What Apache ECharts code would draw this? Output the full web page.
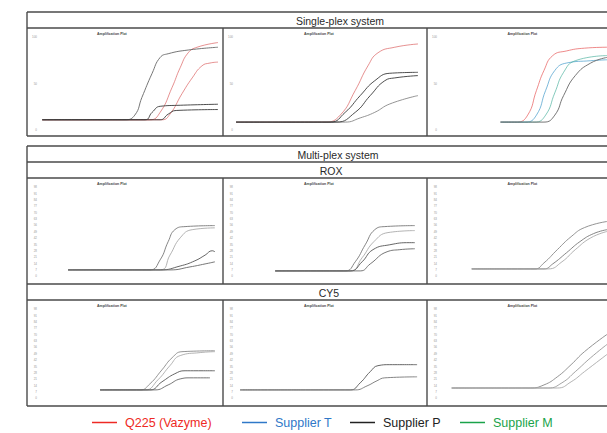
<!DOCTYPE html>
<html><head><meta charset="utf-8">
<script src="https://cdn.jsdelivr.net/npm/echarts@6/dist/echarts.min.js"></script>
<style>html,body{margin:0;padding:0;background:#fff}#c{width:607px;height:433px}</style>
</head><body><div id="c"></div>
<script>
// ---------- data (cycle, fluorescence %) ----------
const legendNames = ['Q225 (Vazyme)', 'Supplier T', 'Supplier P', 'Supplier M'];
const panelTitle = 'Amplification Plot';
const headerSingle = 'Single-plex system';
const headerMulti = 'Multi-plex system';
const headerRox = 'ROX';
const headerCy5 = 'CY5';

// Single-plex
const sp1A = [[0.5,11],[19.1,11],[21.3,16],[22.9,35],[25.2,61],[27,78],[28.8,82],[33.3,86],[40,89]];
const sp1B = [[0.5,11],[24.7,11],[27,19],[29.7,46],[31.5,67],[33.3,83],[35.3,89],[40,94]];
const sp1C = [[0.5,11],[27.4,11],[29.2,17],[31.9,39],[34.2,56],[36.4,69],[38.2,72],[40,73]];
const sp1D = [[0.5,11],[23.6,11],[25.2,19],[27,25.5],[31.5,26.6],[40,27.7]];
const sp1E = [[0.5,11],[27,11],[28.8,17],[30.6,21],[40,22]];

const sp2Q = [[0,8.5],[19.6,8.5],[22.9,16],[26.2,42.5],[29,69],[31.2,83],[34.9,89],[40,92.5]];
const sp2P1 = [[0,8.5],[20.7,8.5],[24,19],[27.3,37],[30.5,53],[33.8,61],[40,62]];
const sp2P2 = [[0,8.5],[22,8.5],[26.2,19],[29.5,37],[32.7,53],[34.9,56],[40,58.5]];
const sp2Q2 = [[0,8.5],[24,8.5],[27.3,13],[30.5,19],[33.8,28],[40,37]];

const sp3Q = [[14.5,8.5],[18.4,8.5],[21,16],[23.1,42.5],[24.9,64],[27,80],[30.3,85],[34.6,88],[40,89]];
const sp3T = [[14.5,8.5],[20.5,8.5],[23.1,16],[25.3,42.5],[27.5,64],[30.3,72],[36.1,74.5],[40,75.5]];
const sp3M = [[14.5,8.5],[22.7,8.5],[25.3,16],[27.5,40],[29.6,62],[32.4,74.5],[40,80]];
const sp3P = [[14.5,8.5],[24.9,8.5],[27.5,16],[29.6,37],[32.4,58.5],[36.1,72],[40,78]];

// Multi-plex ROX
const rox1a = [[6.3,6.7],[24.7,6.7],[27,17.8],[28.8,37.8],[30.3,51],[32.6,54.4],[39.3,55.5]];
const rox1b = [[6.3,6.7],[27,6.7],[29.2,23],[31.5,42],[34.2,51],[39.3,53]];
const rox1c = [[6.3,6.7],[27,6.7],[31.5,11],[34.8,16.7],[37.1,23],[38.7,27.8],[39.3,26.7]];
const rox1d = [[6.3,6.7],[29.2,6.7],[33.7,10],[37.1,13.3],[39.3,15.6]];

const rox2a = [[8.6,5.6],[24,5.6],[26.2,15.6],[28.4,34.4],[30.5,51],[32.7,54.4],[39.3,55.5]];
const rox2b = [[8.6,5.6],[25.1,5.6],[27.7,20],[30.3,37.8],[33.4,47.8],[39.3,50]];
const rox2c = [[8.6,5.6],[25.1,5.6],[27.7,15.6],[30.1,29],[33.8,34.4],[38.2,36.7],[39.3,36.7]];
const rox2d = [[8.6,5.6],[27.3,5.6],[29.5,13.3],[33.2,26.7],[36,29],[39.3,30]];

const rox3a = [[7.6,7.8],[22.7,7.8],[24.9,14.4],[28.1,29],[31.4,43.3],[34.6,53.3],[40,60]];
const rox3b = [[7.6,7.8],[24.9,7.8],[27,13.3],[30.3,25.6],[33.5,37.8],[36.8,46.7],[40,51]];
const rox3c = [[7.6,7.8],[25.9,7.8],[29.2,15.6],[32.4,29],[36.1,42],[40,49]];

// Multi-plex CY5
const cy1a = [[13.5,8.9],[22.5,8.9],[24.7,15.6],[27.4,31],[29.7,44.4],[31.9,51],[39.3,52]];
const cy1b = [[13.5,8.9],[23.6,8.9],[26.5,20],[29.2,35.6],[31.5,46.7],[36,50],[39.3,51]];
const cy1c = [[13.5,8.9],[24.7,8.9],[27.4,17.8],[30.3,26.7],[32.6,30],[39.3,30]];
const cy1d = [[13.5,8.9],[25.8,8.9],[28.8,14.4],[31.5,21],[33.7,22.2],[38.2,22.2]];

const cy2a = [[0.9,8.9],[25.1,8.9],[27.3,16.7],[29.5,29],[31.2,35.6],[33.8,36.7],[39.8,36.7]];
const cy2b = [[0.9,8.9],[26.2,8.9],[28.8,13.3],[31,19],[32.7,22.2],[39.8,23.3]];

const cy3a = [[2.8,11],[21.6,11],[24.9,14.4],[28.1,23.3],[31.4,36.7],[34.6,51],[40,70]];
const cy3b = [[2.8,11],[25.9,11],[29.2,16.7],[32.4,29],[36.1,44.4],[40,59]];
const cy3c = [[2.8,11],[28.1,11],[31.4,17.8],[34.6,29],[40,48]];

// ---------- styles / layout ----------
const C = {Q:'#ee2a24', T:'#2f78c8', P:'#222222', M:'#1aa34a'};
const red = 'rgba(215,80,80,0.7)';
const colX = [40, 236, 440];
const colW = [178, 182, 185];
const rows = [{top:37, h:93, multi:false}, {top:187, h:89, multi:true}, {top:309, h:89, multi:true}];

const panels = [
  {r:0,c:0,curves:[[sp1B,red],[sp1C,red],[sp1A,'#666'],[sp1D,'#3a3a3a'],[sp1E,'#3a3a3a']]},
  {r:0,c:1,curves:[[sp2Q,red],[sp2Q2,'#888'],[sp2P1,'#3a3a3a'],[sp2P2,'#3a3a3a']]},
  {r:0,c:2,curves:[[sp3Q,'rgba(230,80,80,0.75)'],[sp3T,'rgba(60,150,200,0.75)'],[sp3M,'rgba(60,170,150,0.7)'],[sp3P,'#666']]},
  {r:1,c:0,curves:[[rox1a,'#777'],[rox1b,'#aaa'],[rox1c,'#555'],[rox1d,'#666']]},
  {r:1,c:1,curves:[[rox2a,'#777'],[rox2b,'#aaa'],[rox2c,'#555'],[rox2d,'#666']]},
  {r:1,c:2,curves:[[rox3a,'#888'],[rox3b,'#777'],[rox3c,'#aaa']]},
  {r:2,c:0,curves:[[cy1a,'#888'],[cy1b,'#aaa'],[cy1c,'#555'],[cy1d,'#666']]},
  {r:2,c:1,curves:[[cy2a,'#555'],[cy2b,'#777']]},
  {r:2,c:2,curves:[[cy3a,'#888'],[cy3b,'#999'],[cy3c,'#aaa']]}
];

const grid = [], xAxis = [], yAxis = [], series = [], titles = [];
legendNames.forEach((n, i) => {
  series.push({name:n, type:'line', data:[], color:[C.Q, C.T, C.P, C.M][i], xAxisIndex:0, yAxisIndex:0, symbol:'none'});
});
panels.forEach((p, i) => {
  const row = rows[p.r];
  grid.push({left:colX[p.c], top:row.top, width:colW[p.c], height:row.h, containLabel:false});
  xAxis.push({gridIndex:i, type:'value', min:0, max:40, show:false});
  yAxis.push({gridIndex:i, type:'value', min:0, max: row.multi ? 98 : 100, interval: row.multi ? 7 : 50,
    axisLine:{show:false}, axisTick:{show:false}, splitLine:{show:false},
    axisLabel:{show:true, fontSize:3, color:'#999', margin:3}});
  p.curves.forEach((cv, j) => {
    series.push({name:'p'+i+'c'+j, type:'line', xAxisIndex:i, yAxisIndex:i, data:cv[0],
      symbol:'none', smooth:0.5, silent:true,
      lineStyle:{color:cv[1], width:0.9}});
  });
  titles.push({text:panelTitle, left:colX[p.c] + colW[p.c]/2 - 20 + (p.c===0?-12:(p.c===1?-3:-5)), top:row.top - 5,
    textStyle:{fontSize:3.5, fontWeight:'bold', color:'#444', fontFamily:'Liberation Sans, Arial'}, padding:0});
});

// table lines
const L = (x1,y1,x2,y2) => ({type:'line', silent:true, z:100, shape:{x1,y1,x2,y2}, style:{stroke:'#4a4a4a', lineWidth:1.4}});
const T = (t,x,y) => ({type:'text', silent:true, z:100, x, y, style:{text:t, fill:'#2a2a2a', font:'10.5px "Liberation Sans", Arial, sans-serif', textAlign:'center', textVerticalAlign:'middle'}});
const RX = 680;
const graphic = [
  L(27,12,RX,12), L(27,28,RX,28), L(27,136,RX,136), L(27,12,27,136), L(223,28,223,136), L(427,28,427,136),
  L(27,146,RX,146), L(27,162,RX,162), L(27,178,RX,178), L(27,284,RX,284), L(27,300,RX,300), L(27,406,RX,406),
  L(27,146,27,406), L(223,178,223,284), L(427,178,427,284), L(223,300,223,406), L(427,300,427,406),
  T(headerSingle,340,20.5), T(headerMulti,338,154.5), T(headerRox,331,170.5), T(headerCy5,329,292.5)
];

const legendLeft = [92, 242, 350, 460];
const legendColors = [C.Q, C.T, C.P, C.M];
const legend = legendNames.map((n, i) => ({
  data:[n], left:legendLeft[i], top:416, icon:'rect', itemWidth:25, itemHeight:1.5, itemGap:0,
  textStyle:{fontSize:12.5, color:legendColors[i], fontFamily:'Liberation Sans, Arial', padding:[0,0,0,3]},
  selectedMode:false, padding:0
}));

const chart = echarts.init(document.getElementById('c'), null, {renderer:'svg'});
chart.setOption({
  animation:false, backgroundColor:'#fff',
  title:titles, grid, xAxis, yAxis, series, legend, graphic
});
</script></body></html>
